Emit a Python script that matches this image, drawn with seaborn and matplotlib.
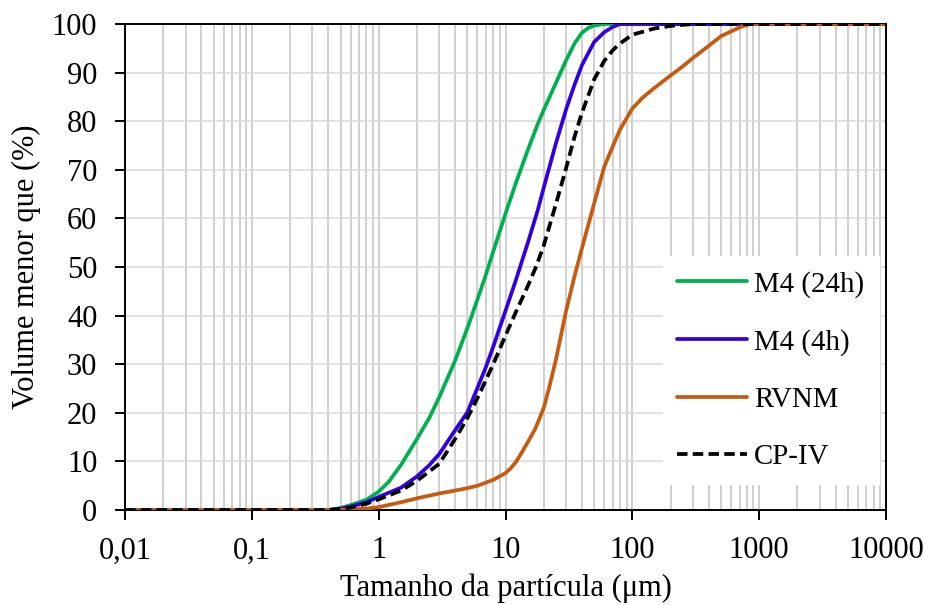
import matplotlib
matplotlib.use("Agg")
import matplotlib.pyplot as plt
import matplotlib.ticker as mticker
import seaborn as sns
import pandas as pd

# Particle size distributions (cumulative volume passing, %)
size_m4_24h = [0.01, 0.1, 0.4, 0.5, 0.6, 0.8, 1, 1.2, 1.5, 2, 2.5, 3, 4, 5, 6, 7, 8,
               10, 12, 15, 18, 20, 25, 30, 35, 40, 45, 50, 60, 10000]
m4_24h = [0, 0, 0, 0.4, 1.0, 2.1, 3.8, 5.8, 9.3, 14.6, 18.9, 23.2, 30.7, 37.4, 43.3, 48.4, 53.2,
          61, 67.1, 74.1, 79.5, 82.3, 87.9, 92.5, 96.0, 98.2, 99.2, 99.7, 100, 100]

size_m4_4h = [0.01, 0.1, 0.4, 0.5, 0.6, 0.8, 1, 1.5, 2, 2.5, 3, 4, 5, 6, 7, 8, 10, 12, 15,
              18, 20, 25, 30, 35, 40, 50, 60, 70, 80, 10000]
m4_4h = [0, 0, 0, 0.3, 0.7, 1.6, 2.7, 4.6, 6.9, 9.2, 11.5, 16.4, 20.1, 25.1, 29.4, 33.6, 41, 47.1, 55,
         61.8, 66.3, 75.5, 82.4, 87.5, 91.5, 96.3, 98.3, 99.4, 100, 100]

size_rvnm = [0.01, 0.1, 0.4, 0.5, 0.6, 0.8, 1, 1.5, 2, 3, 4, 5, 6, 8, 10, 11, 12, 13, 15, 17, 18, 20,
             22, 25, 30, 35, 40, 50, 60, 70, 80, 100, 120, 150, 200, 250, 300, 400, 500, 700, 850, 10000]
rvnm = [0, 0, 0, 0.05, 0.1, 0.3, 0.6, 1.6, 2.4, 3.4, 4.0, 4.5, 5.0, 6.2, 7.6, 8.6, 9.8, 11.2, 14.0, 16.5, 18.0, 21.0,
        25.0, 31.0, 40.9, 48.1, 53.8, 63.1, 70.6, 74.8, 78.3, 82.6, 84.8, 86.9, 89.4, 91.3, 93, 95.5, 97.5, 99.3, 100, 100]

size_cp_iv = [0.01, 0.1, 0.4, 0.5, 0.6, 0.8, 1, 1.5, 2, 3, 4, 5, 6, 8, 10, 12, 15, 17.5, 20, 25, 30,
              35, 40, 50, 60, 70, 80, 100, 150, 200, 300, 10000]
cp_iv = [0, 0, 0, 0.2, 0.5, 1.3, 2.2, 4.0, 6.0, 9.5, 14.6, 18.9, 23, 30, 35.9, 40.6, 46.1, 50.2, 54.4, 63, 70.3,
         76.8, 81.7, 88.6, 92.4, 94.6, 96, 97.8, 99.1, 99.6, 100, 100]

series_names = ["M4 (24h)", "M4 (4h)", "RVNM", "CP-IV"]
series_colors = ["#00B050", "#3300DD", "#C55A11", "#000000"]

x_tick_values = [0.01, 0.1, 1, 10, 100, 1000, 10000]
x_tick_labels = ["0,01", "0,1", "1", "10", "100", "1000", "10000"]
y_tick_values = [0, 10, 20, 30, 40, 50, 60, 70, 80, 90, 100]

frames = []
for name, xs, ys in zip(series_names,
                        [size_m4_24h, size_m4_4h, size_rvnm, size_cp_iv],
                        [m4_24h, m4_4h, rvnm, cp_iv]):
    frames.append(pd.DataFrame({"size": xs, "passing": ys, "sample": name}))
df = pd.concat(frames, ignore_index=True)

sns.set_theme(style="white")
plt.rcParams["font.family"] = ["Liberation Serif", "DejaVu Serif"]

fig = plt.figure(figsize=(9.29, 6.05), dpi=100)
ax = fig.add_axes([0.1346, 0.157, 0.8191, 0.8033])

for name, color in zip(series_names, series_colors):
    sub = df[df["sample"] == name]
    ls = (0, (2.8, 1.4)) if name == "CP-IV" else "-"
    sns.lineplot(data=sub, x="size", y="passing", ax=ax, color=color,
                 linewidth=2.7, linestyle=ls, label=name, zorder=3,
                 solid_capstyle="round", solid_joinstyle="round", dash_capstyle="butt")

ax.set_xscale("log")
ax.set_xlim(0.01, 10000)
ax.set_ylim(0, 100)

ax.xaxis.set_major_locator(mticker.FixedLocator(x_tick_values))
ax.xaxis.set_major_formatter(mticker.FixedFormatter(x_tick_labels))
ax.xaxis.set_minor_locator(mticker.LogLocator(base=10, subs=range(2, 10), numticks=20))
ax.xaxis.set_minor_formatter(mticker.NullFormatter())
ax.set_yticks(y_tick_values)

ax.grid(which="major", axis="x", color="#c2c2c2", linewidth=1.1, zorder=0)
ax.grid(which="minor", axis="x", color="#c2c2c2", linewidth=1.1, zorder=0)
ax.grid(which="major", axis="y", color="#d9d9d9", linewidth=1.1, zorder=0)
ax.set_axisbelow(True)

for side in ["left", "right", "top", "bottom"]:
    ax.spines[side].set_visible(True)
    ax.spines[side].set_color("black")
    ax.spines[side].set_linewidth(1.4)

ax.tick_params(axis="both", which="major", direction="out", length=7, width=1.4,
               color="black", labelsize=22, labelcolor="black",
               bottom=True, left=True, top=False, right=False)
ax.tick_params(axis="x", which="major", pad=12)
ax.tick_params(axis="y", which="major", pad=13)
ax.tick_params(axis="x", which="minor", length=0)

ax.set_xlabel("Tamanho da partícula (μm)", fontsize=22, color="black", labelpad=6)
ax.set_ylabel("Volume menor que (%)", fontsize=22, color="black", labelpad=8)

leg = ax.legend(loc="upper left", bbox_to_anchor=(0.707, 0.522), borderaxespad=0,
                fontsize=20.8, frameon=True, fancybox=False, framealpha=1,
                facecolor="white", edgecolor="white", handlelength=2.4,
                handletextpad=0.25, labelspacing=1.07, borderpad=0.5)
for t in leg.get_texts():
    t.set_color("black")

fig.savefig("out.png", dpi=100)
